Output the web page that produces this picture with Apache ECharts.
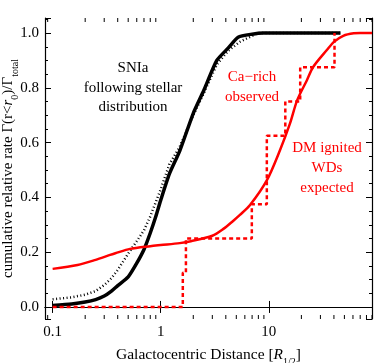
<!DOCTYPE html>
<html><head><meta charset="utf-8">
<script src="https://cdn.jsdelivr.net/npm/echarts@6/dist/echarts.min.js"></script>
<style>html,body{margin:0;padding:0;background:#fff}#c{width:374px;height:363px}</style>
</head><body><div id="c"></div>
<script>
// SNIa following stellar distribution (solid black)
const snX = [0.1, 0.15, 0.2, 0.25, 0.3, 0.35, 0.4, 0.5, 0.6, 0.7, 0.8, 0.9, 1.0, 1.2, 1.5, 2.0, 2.5, 3.3, 4.2, 5.2, 7.0, 8.9, 46];
const snY = [0.005, 0.011, 0.018, 0.027, 0.04, 0.058, 0.078, 0.11, 0.16, 0.21, 0.27, 0.33, 0.39, 0.485, 0.57, 0.707, 0.79, 0.90, 0.945, 0.985, 0.996, 1.0, 1.0];
// dotted black variant
const dotX = [0.1, 0.15, 0.2, 0.25, 0.3, 0.35, 0.4, 0.5, 0.6, 0.7, 0.8, 1.0, 1.2, 1.5, 2.0, 2.5, 3.3, 4.2, 5.4, 7.9, 46];
const dotY = [0.028, 0.035, 0.045, 0.058, 0.08, 0.105, 0.135, 0.195, 0.24, 0.28, 0.33, 0.43, 0.52, 0.585, 0.70, 0.78, 0.885, 0.935, 0.968, 1.0, 1.0];
// DM ignited WDs expected (solid red)
const dmX = [0.1, 0.17, 0.25, 0.34, 0.38, 0.52, 0.8, 1.0, 1.5, 1.9, 3.0, 3.8, 4.7, 5.4, 6.7, 9.6, 12.7, 15.7, 18.3, 22.5, 25.7, 34.4, 40, 48.8, 61, 70, 90];
const dmY = [0.139, 0.153, 0.172, 0.19, 0.196, 0.212, 0.222, 0.226, 0.233, 0.24, 0.26, 0.285, 0.315, 0.336, 0.372, 0.463, 0.573, 0.67, 0.755, 0.828, 0.876, 0.938, 0.968, 0.99, 0.999, 1.0, 1.0];
// Ca-rich observed (dashed red step)
const caX = [0.1, 1.6, 1.71, 6.96, 9.58, 14.2, 19.5, 40.5];
const caY = [0, 0.125, 0.25, 0.375, 0.625, 0.75, 0.875, 1.0];
// axis
const X_MIN = 0.085, X_MAX = 90, Y_MIN = -0.044, Y_MAX = 1.055;
const xMinorTicks = [0.09, 0.2, 0.3, 0.4, 0.5, 0.6, 0.7, 0.8, 0.9, 2, 3, 4, 5, 6, 7, 8, 9, 20, 30, 40, 50, 60, 70, 80, 90];

const FONT = 'Liberation Serif';
const zip = (a, b) => a.map((v, i) => [v, b[i]]);

const chart = echarts.init(document.getElementById('c'), null, {renderer: 'canvas'});
const axisLineStyle = {show: true, lineStyle: {color: '#000', width: 1.2}};
const option = {
  animation: false,
  grid: {left: 45, right: 2, top: 18, bottom: 44, containLabel: false, outerBoundsMode: 'none'},
  xAxis: [{
    type: 'log', logBase: 10, min: X_MIN, max: X_MAX, position: 'bottom',
    axisLine: axisLineStyle,
    axisTick: {show: true, inside: true, length: 6, lineStyle: {color: '#000', width: 1}},
    minorTick: {show: false},
    splitLine: {show: false},
    axisLabel: {show: true, color: '#000', fontFamily: FONT, fontSize: 15, margin: 6, showMinLabel: false, showMaxLabel: false},
    name: '{a|Galactocentric Distance [}{i|R}{s|1/2}{a|]}',
    nameLocation: 'middle', nameGap: 27,
    nameTextStyle: {rich: {
      a: {fontFamily: FONT, fontSize: 15.5, color: '#000', lineHeight: 18},
      i: {fontFamily: FONT, fontSize: 15.5, fontStyle: 'italic', color: '#000', lineHeight: 18},
      s: {fontFamily: FONT, fontSize: 10, color: '#000', lineHeight: 18, verticalAlign: 'bottom', padding: [0, 0, -3, 0]}
    }}
  }, {
    type: 'log', logBase: 10, min: X_MIN, max: X_MAX, position: 'top',
    axisLine: axisLineStyle,
    axisTick: {show: true, inside: true, length: 6, lineStyle: {color: '#000', width: 1}},
    splitLine: {show: false}, axisLabel: {show: false}
  }],
  yAxis: [{
    type: 'value', min: Y_MIN, max: Y_MAX, splitNumber: 5, position: 'left',
    axisLine: axisLineStyle,
    axisTick: {show: true, inside: true, length: 6, lineStyle: {color: '#000', width: 1}},
    minorTick: {show: true, splitNumber: 4, length: 3, lineStyle: {color: '#000', width: 1}},
    splitLine: {show: false},
    axisLabel: {color: '#000', fontFamily: FONT, fontSize: 15, margin: 6, showMinLabel: false, showMaxLabel: false,
      formatter: v => v.toFixed(1)},
    name: '{a|cumulative relative rate Γ(r<}{i|r}{s|0}{a|)/Γ}{s|total}',
    nameLocation: 'middle', nameGap: 28, nameMoveOverlap: false,
    nameTextStyle: {rich: {
      a: {fontFamily: FONT, fontSize: 15, color: '#000', lineHeight: 18},
      i: {fontFamily: FONT, fontSize: 15, fontStyle: 'italic', color: '#000', lineHeight: 18},
      s: {fontFamily: FONT, fontSize: 10, color: '#000', lineHeight: 18, verticalAlign: 'bottom', padding: [0, 0, -3, 0]}
    }}
  }, {
    type: 'value', min: Y_MIN, max: Y_MAX, splitNumber: 5, position: 'right',
    axisLine: axisLineStyle,
    axisTick: {show: true, inside: true, length: 6, lineStyle: {color: '#000', width: 1}},
    minorTick: {show: true, splitNumber: 4, length: 3, lineStyle: {color: '#000', width: 1}},
    splitLine: {show: false}, axisLabel: {show: false}
  }],
  series: [
    {type: 'custom', xAxisIndex: 0, yAxisIndex: 0, silent: true, clip: false, z: 10,
      data: xMinorTicks.map(v => [v, 0]),
      renderItem: (params, api) => {
        const v = api.value(0);
        const b = api.coord([v, Y_MIN]);
        const t = api.coord([v, Y_MAX]);
        const st = {stroke: '#000', lineWidth: 1};
        return {type: 'group', children: [
          {type: 'line', shape: {x1: b[0], y1: b[1], x2: b[0], y2: b[1] - 4}, style: st},
          {type: 'line', shape: {x1: t[0], y1: t[1], x2: t[0], y2: t[1] + 4}, style: st}
        ]};
      }},
    {type: 'line', name: 'dotted', data: zip(dotX, dotY), showSymbol: false, smooth: false,
      lineStyle: {color: '#000', width: 2.5, type: [1, 2.5]}, z: 2},
    {type: 'line', name: 'SNIa', data: zip(snX, snY), showSymbol: false, smooth: 0.2,
      lineStyle: {color: '#000', width: 3.5}, z: 3},
    {type: 'line', name: 'Ca-rich', data: zip(caX, caY), showSymbol: false, step: 'end',
      lineStyle: {color: '#ff0000', width: 2.5, type: [4, 3]}, z: 4},
    {type: 'line', name: 'DM', data: zip(dmX, dmY), showSymbol: false, smooth: 0.3,
      lineStyle: {color: '#ff0000', width: 2.5}, z: 5}
  ],
  graphic: [
    {type: 'text', x: 133, y: 88, style: {text: 'SNIa\nfollowing stellar\ndistribution', fill: '#000',
      font: '15px "Liberation Serif"', lineHeight: 19.5, textAlign: 'center', textVerticalAlign: 'middle'}},
    {type: 'text', x: 252, y: 87, style: {text: 'Ca\u2212rich\nobserved', fill: '#ff0000',
      font: '15px "Liberation Serif"', lineHeight: 20, textAlign: 'center', textVerticalAlign: 'middle'}},
    {type: 'text', x: 327, y: 168, style: {text: 'DM ignited\nWDs\nexpected', fill: '#ff0000',
      font: '15px "Liberation Serif"', lineHeight: 20, textAlign: 'center', textVerticalAlign: 'middle'}}
  ]
};
chart.setOption(option);
</script></body></html>
